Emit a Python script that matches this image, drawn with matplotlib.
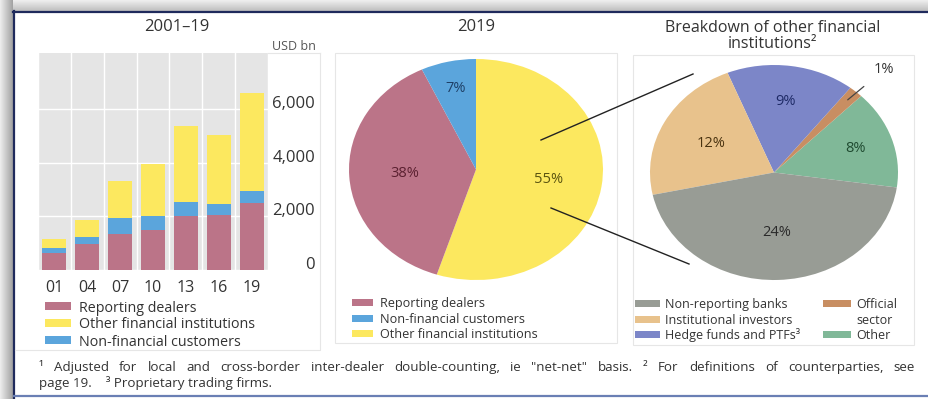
import numpy as np
import matplotlib
matplotlib.use('Agg')
import matplotlib.pyplot as plt
from matplotlib.patches import Rectangle
from matplotlib.lines import Line2D
from matplotlib.transforms import ScaledTranslation

plt.rcParams['font.family'] = ['Open Sans', 'DejaVu Sans']

# ---------------- data ----------------
years = ["01", "04", "07", "10", "13", "16", "19"]
reporting_dealers = [620, 970, 1330, 1500, 2030, 2060, 2490]
non_financial = [215, 275, 625, 530, 490, 410, 460]
other_financial = [325, 625, 1370, 1930, 2865, 2580, 3650]
yticks = [0, 2000, 4000, 6000]
ytick_labels = ["0", "2,000", "4,000", "6,000"]
bar_legend = ["Reporting dealers", "Other financial institutions", "Non-financial customers"]

pie2019_labels = ["Other financial institutions", "Reporting dealers", "Non-financial customers"]
pie2019_values = [55, 38, 7]
pie2019_legend = ["Reporting dealers", "Non-financial customers", "Other financial institutions"]

ofi_labels = ["Other", "Official sector", "Hedge funds and PTFs³", "Institutional investors", "Non-reporting banks"]
ofi_values = [8, 1, 9, 12, 24]

# ---------------- style ----------------
W, H = 929, 399
C_RD, C_OFI, C_NF = '#bb7488', '#fce85f', '#5ba5dc'
C_GRAY, C_INST, C_HEDGE, C_OFF, C_OTH = '#989c95', '#e8c28c', '#7c86c8', '#c88e62', '#80b898'
TXT = '#333333'

fig = plt.figure(figsize=(W / 100, H / 100), dpi=100)
fig.patch.set_facecolor('white')


def rect(x0, y0, x1, y1):
    return [x0 / W, 1 - y1 / H, (x1 - x0) / W, (y1 - y0) / H]


def fx(x):
    return x / W


def fy(y):
    return 1 - y / H


def add_rect(x0, y0, x1, y1, **kw):
    fig.add_artist(Rectangle((fx(x0), fy(y1)), (x1 - x0) / W, (y1 - y0) / H,
                             transform=fig.transFigure, **kw))


def add_line(xs, ys, **kw):
    fig.add_artist(Line2D([fx(x) for x in xs], [fy(y) for y in ys],
                          transform=fig.transFigure, **kw))


# window frame / shadow
for i in range(11):
    g = 0.93 - 0.18 * i / 10
    add_rect(0, i, W, i + 1, color=(g, g, g), lw=0)
for i in range(13):
    g = 0.92 - 0.28 * i / 12
    add_rect(i, 0, i + 1, H, color=(g, g, g), lw=0)
add_line([13, W], [12, 12], color='#1f2a5c', lw=1.6)
add_line([14, 14], [11, H], color='#1f2a5c', lw=1.6)
add_line([14, W], [396, 396], color='#6a7fb4', lw=1.6)

# panel boxes
box_c = '#e6e6e6'
add_line([15, 320, 320], [350, 350, 53], color=box_c, lw=0.8)
add_line([268, 320], [53, 53], color=box_c, lw=0.8)
add_rect(335, 53, 617, 343, fill=False, ec=box_c, lw=0.8)
add_rect(633, 55, 914, 345, fill=False, ec=box_c, lw=0.8)

# ---------------- bar chart ----------------
ax = fig.add_axes(rect(38, 53, 268, 270))
x = np.arange(len(years))
rd = np.array(reporting_dealers)
nf = np.array(non_financial)
of = np.array(other_financial)
ax.bar(x, rd, 0.73, color=C_RD, zorder=2)
ax.bar(x, nf, 0.73, bottom=rd, color=C_NF, zorder=2)
ax.bar(x, of, 0.73, bottom=rd + nf, color=C_OFI, zorder=2)
ax.set_facecolor('#e5e5e5')
ax.set_xlim(-0.5, 6.5)
ax.set_ylim(0, 8100)
for s in ax.spines.values():
    s.set_visible(False)
ax.set_xticks(x, years)
ax.set_xticks(np.arange(-0.5, 7), minor=True)
ax.set_yticks(yticks, ytick_labels)
ax.grid(which='minor', axis='x', color='white', lw=1.0)
ax.grid(which='major', axis='y', color='white', lw=1.0)
ax.set_axisbelow(True)
ax.yaxis.tick_right()
ax.tick_params(axis='x', which='both', length=0, pad=7, labelsize=11.5, labelcolor=TXT)
ax.tick_params(axis='y', which='both', length=0, pad=34, labelsize=12, labelcolor=TXT)
for lab in ax.get_yticklabels():
    lab.set_ha('right')
    lab.set_transform(lab.get_transform() + ScaledTranslation(0, 0.07, fig.dpi_scale_trans))
fig.text(fx(316), fy(46), "USD bn", ha='right', va='center', fontsize=9, color='#555555')

# ---------------- 2019 pie ----------------
ax2 = fig.add_axes(rect(349, 59, 603, 280))
w2, _ = ax2.pie(pie2019_values, colors=[C_OFI, C_RD, C_NF], startangle=90,
                counterclock=False, wedgeprops=dict(linewidth=0))
ax2.set_aspect('auto')
ax2.set_xlim(-1, 1)
ax2.set_ylim(-1, 1)
for w, v, r, c in zip(w2, pie2019_values, [0.58, 0.56, 0.75], ['#5a5410', '#5a2030', '#1e3f66']):
    a = np.deg2rad((w.theta1 + w.theta2) / 2)
    ax2.text(r * np.cos(a), r * np.sin(a), f"{v}%", ha='center', va='center', fontsize=10.5, color=c)

# ---------------- breakdown pie ----------------
ax3 = fig.add_axes(rect(650, 65, 898, 280))
w3, _ = ax3.pie(ofi_values, colors=[C_OTH, C_OFF, C_HEDGE, C_INST, C_GRAY], startangle=-8,
                counterclock=True, wedgeprops=dict(linewidth=0))
ax3.set_aspect('auto')
ax3.set_xlim(-1, 1)
ax3.set_ylim(-1, 1)
for w, v, r, c in zip(w3, ofi_values, [0.695, None, 0.665, 0.575, 0.56],
                      ['#1f4a30', None, '#1e2a66', '#4a3310', '#2a2a2a']):
    a = np.deg2rad((w.theta1 + w.theta2) / 2)
    if r is None:
        ax3.annotate(f"{v}%", xy=(0.9 * np.cos(a), 0.9 * np.sin(a)),
                     xytext=(1.34 * np.cos(a), 1.27 * np.sin(a)),
                     ha='center', va='center', fontsize=10.5, color=TXT, annotation_clip=False,
                     arrowprops=dict(arrowstyle='-', color='#444444', lw=0.9, shrinkA=7, shrinkB=0))
    else:
        ax3.text(r * np.cos(a), r * np.sin(a), f"{v}%", ha='center', va='center', fontsize=10.5, color=c)

# connector lines
add_line([541, 693], [140, 74], color='#222222', lw=1.0)
add_line([551, 689], [208, 264], color='#222222', lw=1.0)

# ---------------- titles ----------------
fig.text(fx(177), fy(27), "2001–19", ha='center', va='center', fontsize=12, color=TXT)
fig.text(fx(476), fy(27), "2019", ha='center', va='center', fontsize=12, color=TXT)
fig.text(fx(773), fy(28), "Breakdown of other financial", ha='center', va='center', fontsize=11.5, color=TXT)
fig.text(fx(773), fy(44), "institutions²", ha='center', va='center', fontsize=11.5, color=TXT)

# ---------------- legends ----------------
def entry(px0, px1, y, ph, tx, label, color, fs):
    add_rect(px0, y - ph / 2, px1, y + ph / 2, color=color, lw=0)
    fig.text(fx(tx), fy(y), label, ha='left', va='center_baseline', fontsize=fs, color=TXT)

for lab, col, y in zip(bar_legend, [C_RD, C_OFI, C_NF], [306, 323, 340]):
    entry(45, 71, y, 8, 79, lab, col, 10.3)

for lab, col, y in zip(pie2019_legend, [C_RD, C_NF, C_OFI], [302, 318, 333]):
    entry(352, 373, y, 7, 380, lab, col, 9.1)

right_leg = {ofi_labels[4]: (C_GRAY, 635, 303), ofi_labels[3]: (C_INST, 635, 319),
             ofi_labels[2]: (C_HEDGE, 635, 334), ofi_labels[1]: (C_OFF, 823, 303),
             ofi_labels[0]: (C_OTH, 823, 334)}
for lab, (col, px0, y) in right_leg.items():
    if lab == "Official sector":
        entry(px0, px0 + 28, y, 7, px0 + 33, "Official", col, 9.0)
        fig.text(fx(px0 + 33), fy(319), "sector", ha='left', va='center_baseline', fontsize=9.0, color=TXT)
    else:
        entry(px0, px0 + (25 if px0 < 700 else 28), y, 7, px0 + (30 if px0 < 700 else 33), lab, col, 9.0)

# ---------------- footnotes ----------------
line1 = ["¹", "Adjusted", "for", "local", "and", "cross-border", "inter-dealer", "double-counting,",
         "ie", '"net-net"', "basis.", "²", "For", "definitions", "of", "counterparties,", "see"]
renderer = fig.canvas.get_renderer()
texts = [fig.text(0, fy(366), wd, ha='left', va='center_baseline', fontsize=9.6, color=TXT) for wd in line1]
widths = [t.get_window_extent(renderer).width for t in texts]
left, right = 39, 915
gap = (right - left - sum(widths)) / (len(texts) - 1)
xpos = left
for t, wdt in zip(texts, widths):
    t.set_x(fx(xpos))
    xpos += wdt + gap
fig.text(fx(39), fy(382), "page 19.    ³ Proprietary trading firms.", ha='left', va='center_baseline',
         fontsize=9.6, color=TXT)

fig.savefig('out.png', dpi=100)
